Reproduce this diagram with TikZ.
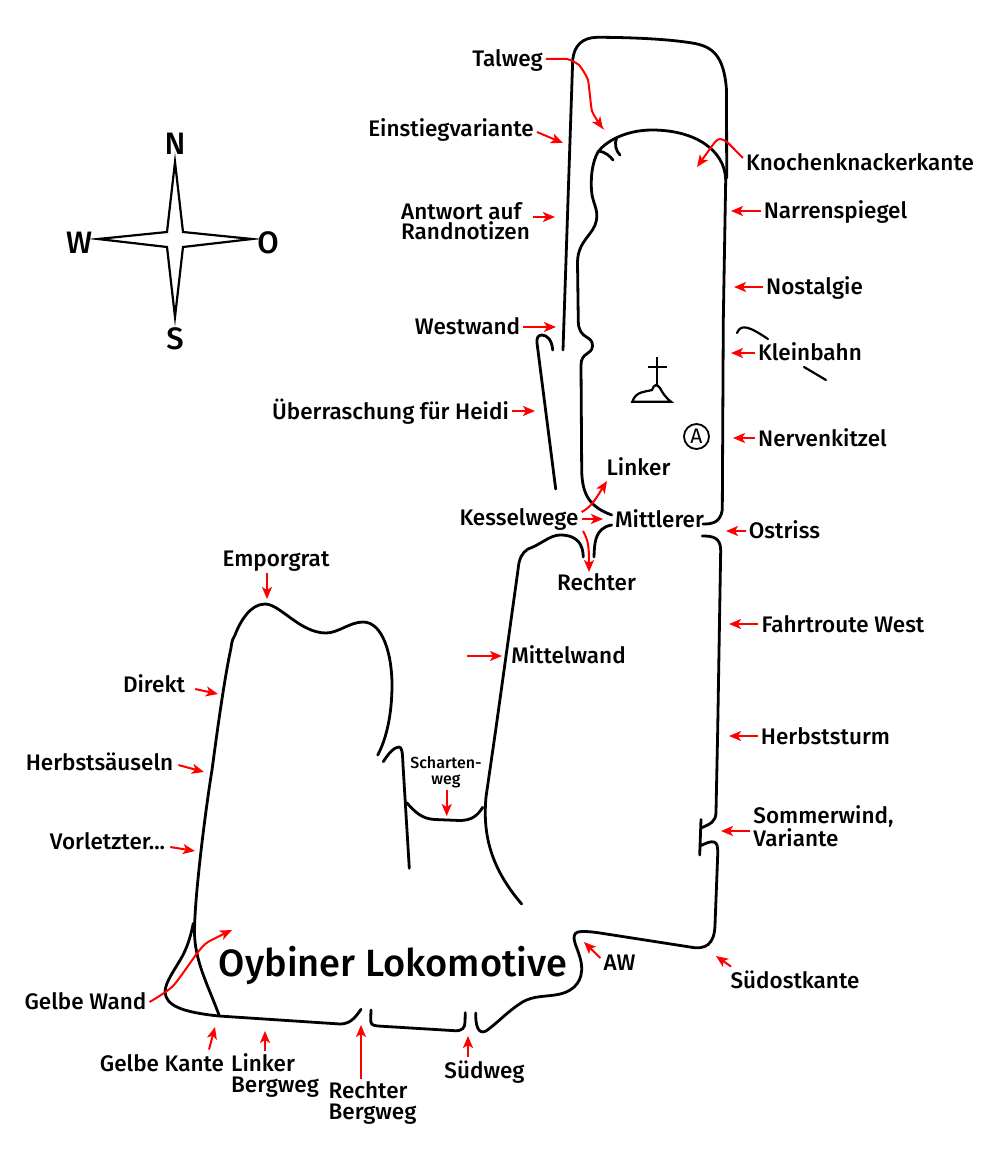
\documentclass[tikz,border=0pt]{standalone}
\usepackage{fontspec}
\setmainfont{Fira Sans Medium}
\newfontfamily\markerfont{Fira Sans}
\usepackage{tikz}
\usetikzlibrary{arrows.meta,calc}
\definecolor{wallblack}{HTML}{000000}
\definecolor{routered}{HTML}{ff0000}
\tikzset{
  wall/.style={draw=wallblack, line width=2.8pt, line cap=round, line join=round},
  thinwall/.style={draw=wallblack, line width=1.8pt, line join=miter},
  route/.style={
    -{Stealth[length=12pt,width=10pt,inset=3pt]},
    line width=2pt, draw=routered
  },
  flag/.style={
    font=\fontsize{22.5}{21}\selectfont, inner sep=3pt,
    text height=18.5pt, text depth=4pt, align=center
  },
  flagtwo/.style={
    font=\fontsize{22.5}{20.5}\selectfont, inner sep=3pt, align=left
  },
  pole/.style={font=\fontsize{31}{31}\selectfont, inner sep=0pt},
}
\begin{document}
\begin{tikzpicture}[x=1pt,y=-1pt]
  \useasboundingbox (0,0) rectangle (1000,1160);

  \draw[thinwall, line width=2.2pt] (175,162) -- (183,232) -- (252,239) -- (183,247) -- (175,317) -- (167,247) -- (98,239) -- (167,232) -- cycle;
  \node[pole] (north) at (175,144) {N};
  \node[pole] (south) at (175,339) {S};
  \node[pole] (west) at (79,243) {W};
  \node[pole] (east) at (268,243) {O};

  \draw[wall] (563,350) -- (572.7,60) .. controls (574,46) and (582,37.5) .. (597,37.3) .. controls (630,37.3) and (670,39) .. (695,43.5) .. controls (712,47) and (724,55) .. (726.5,90) -- (726.7,178);
  \draw[wall] (703,524) .. controls (712,524) and (720,523) .. (722.3,510) -- (723.3,320) -- (725.7,180) .. controls (725,150) and (695,130) .. (652,130) .. controls (625,130) and (605,142) .. (598,152) .. controls (592,162) and (590,180) .. (592,195) .. controls (594,205) and (598,210) .. (596.5,220) .. controls (594,235) and (578,240) .. (577.5,262) -- (578.3,322) .. controls (579,340) and (593,335) .. (592.5,346) .. controls (592,355) and (581,352) .. (581,365) -- (581.7,470) .. controls (582,495) and (590,507) .. (611.7,515);
  \draw[wall] (599,151) .. controls (605,152) and (610,156) .. (613,160);
  \draw[wall] (616.7,137.5) .. controls (614,144) and (616,151) .. (620,155);
  \draw[wall] (552.7,350) .. controls (552,340) and (547,335) .. (542,335) .. controls (538,335) and (536.5,338) .. (537,343) -- (555.7,489);

  \draw[wall] (583.3,557) .. controls (583,545) and (578,535) .. (560,535) .. controls (550,535) and (540,545) .. (528,549) .. controls (522,553) and (519,558) .. (518,570) -- (495.7,730) -- (486,797) .. controls (483,830) and (488,865) .. (521.7,904);
  \draw[wall] (594,557) .. controls (594.5,545) and (594,528) .. (611.7,525);
  \draw[wall] (702.3,536) .. controls (712,536) and (720.5,537) .. (720.7,550) -- (717.7,730) -- (716,812) .. controls (716,822) and (710,824) .. (701.7,827.7);
  \draw[wall] (701,819.5) -- (699.7,855);
  \draw[wall] (700,846) .. controls (706,843) and (711,841) .. (714,842) .. controls (717,843) and (718,846) .. (717.7,855) -- (715,925) .. controls (714.5,945) and (705,950) .. (690,947) -- (600,933) .. controls (590,931.5) and (582,931) .. (578,932) .. controls (574,933) and (573,937) .. (575,943) .. controls (578,952) and (582,960) .. (581.7,970) .. controls (581,985) and (570,993) .. (555,995) .. controls (540,997) and (530,996) .. (518,1005) .. controls (505,1014) and (495,1025) .. (486,1031) .. controls (478,1035) and (475.5,1025) .. (475.7,1013);
  \draw[wall] (371,1010) -- (370.7,1020) .. controls (370.7,1024) and (372,1025.5) .. (378,1026) -- (455,1030.7) .. controls (462,1031) and (465,1028) .. (465,1022) -- (465.3,1012.7);

  \draw[wall] (406.7,802.7) .. controls (415,812) and (422,819) .. (435,819.5) -- (460,820.5) .. controls (472,820.5) and (478,815) .. (482.7,807.3);
  \draw[wall] (383.3,761.7) .. controls (388,754) and (394,747) .. (399,747) .. controls (402,747) and (402.5,752) .. (403,765) -- (409.3,868.3);
  \draw[wall] (361,1009.3) .. controls (355,1018) and (350,1024) .. (340,1024) -- (219,1016) .. controls (180,1012) and (166,1005) .. (165,992) .. controls (165,982) and (176,968) .. (183,955) .. controls (188,945) and (191,935) .. (193.3,923.3);
  \draw[wall] (219,1015) .. controls (208,985) and (194,960) .. (194.5,930) .. controls (195,890) and (207,800) .. (212,770) .. controls (216,740) and (224,680) .. (231,648) .. controls (232,640) and (233,638) .. (235,635) .. controls (240,622) and (250,604) .. (265,604) .. controls (280,604) and (300,633) .. (326,633) .. controls (338,633) and (350,622) .. (363,622) .. controls (383,622) and (392,655) .. (392,685) .. controls (392,715) and (386,740) .. (377.7,755);

  \draw[wall, line width=2.2pt] (737,333) .. controls (741,323) and (750,327) .. (768,339);
  \draw[wall, line width=2.2pt] (804,367) -- (826,380);
  \draw[thinwall, line width=2.2pt] (657,357) -- (657,385);
  \draw[thinwall, line width=2.2pt] (647.7,367) -- (666.7,367);
  \draw[thinwall, line width=2.2pt] (632.3,401.7) -- (671,401.7) .. controls (665,397) and (662,392) .. (660,388) .. controls (657,384) and (654,384) .. (652,390) .. controls (645,392) and (636,391) .. cycle;
  \node[circle, thinwall, minimum size=25pt, inner sep=0pt, font=\markerfont\fontsize{21}{21}\selectfont] (marker) at (696.5,436.5) {A};

  \node[flag] (talweg) at (507.5,59) {Talweg};
  \node[flag] (einstieg) at (451,129) {Einstiegvariante};
  \node[flagtwo] (antwort) at (465.5,221) {Antwort auf\\Randnotizen};
  \node[flag] (westwand) at (467.5,327) {Westwand};
  \node[flag] (heidi) at (390.5,412) {Überraschung für Heidi};
  \node[flag] (kessel) at (519,518) {Kesselwege};
  \node[flag] (linker) at (638.5,468) {Linker};
  \node[flag] (mittlerer) at (659.5,520) {Mittlerer};
  \node[flag] (rechter) at (596.5,583) {Rechter};
  \node[flag] (knochen) at (860,163) {Knochenknackerkante};
  \node[flag] (narren) at (835.5,211) {Narrenspiegel};
  \node[flag] (nostalgie) at (814.5,287) {Nostalgie};
  \node[flag] (kleinbahn) at (810,353) {Kleinbahn};
  \node[flag] (nerven) at (822.5,439) {Nervenkitzel};
  \node[flag] (ostriss) at (784.5,531) {Ostriss};
  \node[flag] (fahrtroute) at (843,625) {Fahrtroute West};
  \node[flag] (herbststurm) at (825.5,737) {Herbststurm};
  \node[flagtwo] (sommerwind) at (823.5,826) {Sommerwind,\\Variante};
  \node[flag] (suedost) at (795,981) {Südostkante};
  \node[flag] (aw) at (619.5,963) {AW};
  \node[flag] (suedweg) at (484.5,1071) {Südweg};
  \node[flagtwo] (rechterberg) at (372.5,1103) {Rechter\\Bergweg};
  \node[flagtwo] (linkerberg) at (275,1075.5) {Linker\\Bergweg};
  \node[flag] (gelbekante) at (162,1064) {Gelbe Kante};
  \node[flag] (gelbewand) at (85.5,1002) {Gelbe Wand};
  \node[flag] (vorletzter) at (107.5,842) {Vorletzter...};
  \node[flag] (saeuseln) at (99.5,763) {Herbstsäuseln};
  \node[flag] (direkt) at (154,685) {Direkt};
  \node[flag] (emporgrat) at (276,559) {Emporgrat};
  \node[flag] (mittelwand) at (568.5,656) {Mittelwand};
  \node[font=\fontsize{16}{16}\selectfont, inner sep=2pt, align=center] (scharte) at (446,772) {Scharten-\\weg};
  \node[font=\fontsize{38}{38}\selectfont, inner sep=0pt] (lokomotive) at (393,965) {Oybiner Lokomotive};

  \coordinate (talwegtip) at (603,129);
  \coordinate (einstiegtip) at (563,143);
  \coordinate (antworttip) at (555,217);
  \coordinate (westwandtip) at (556,327);
  \coordinate (heiditip) at (535,411);
  \coordinate (linkertip) at (607,481);
  \coordinate (mittlerertip) at (603,519);
  \coordinate (rechtertip) at (589,572);
  \coordinate (knochentip) at (697,167);
  \coordinate (narrentip) at (731,211);
  \coordinate (nostalgietip) at (734,287);
  \coordinate (kleinbahntip) at (731,353);
  \coordinate (nerventip) at (733,438);
  \coordinate (ostrisstip) at (726,531);
  \coordinate (fahrtroutetip) at (729,624);
  \coordinate (herbststurmtip) at (729,736);
  \coordinate (sommerwindtip) at (721,831);
  \coordinate (suedosttip) at (716,956);
  \coordinate (awtip) at (584,942);
  \coordinate (suedwegtip) at (468,1036);
  \coordinate (rechterbergtip) at (361,1025);
  \coordinate (linkerbergtip) at (265,1031);
  \coordinate (gelbekantetip) at (215,1027);
  \coordinate (gelbewandtip) at (232,930);
  \coordinate (vorletztertip) at (195,851);
  \coordinate (saeuselntip) at (204,772);
  \coordinate (direkttip) at (218,694);
  \coordinate (emporgrattip) at (267,599);
  \coordinate (mittelwandstart) at (467,656);
  \coordinate (mittelwandtip) at (502,656);
  \coordinate (schartetip) at (446.7,816);

  \draw[route] plot[smooth, tension=0.3] coordinates {(talweg.east) (567,59) (579,65) (588,80) (592,111) (talwegtip)};
  \draw[route] ([yshift=-3pt]einstieg.east) -- (einstiegtip);
  \draw[route] (antwort.east |- antworttip) -- (antworttip);
  \draw[route] (westwand) -- (westwandtip);
  \draw[route] (heidi.east |- heiditip) -- (heiditip);
  \draw[route] ([yshift=6pt]kessel.east) .. controls (592,507) and (598,495) .. (linkertip);
  \draw[route] (kessel.east |- mittlerertip) -- (mittlerertip);
  \draw[route] (583,531) .. controls (588,540) and (589,545) .. (rechtertip);
  \draw[route] plot[smooth, tension=0.3] coordinates {([yshift=5pt]knochen.west) (727,142) (720,139) (715,142) (knochentip)};
  \draw[route] (narren) -- (narrentip);
  \draw[route] (nostalgie) -- (nostalgietip);
  \draw[route] (kleinbahn) -- (kleinbahntip);
  \draw[route] (nerven.west |- nerventip) -- (nerventip);
  \draw[route] (ostriss) -- (ostrisstip);
  \draw[route] (fahrtroute.west |- fahrtroutetip) -- (fahrtroutetip);
  \draw[route] (herbststurm.west |- herbststurmtip) -- (herbststurmtip);
  \draw[route] (sommerwind.west |- sommerwindtip) -- (sommerwindtip);
  \draw[route] ([xshift=-64pt]suedost.north) -- (suedosttip);
  \draw[route] ([yshift=5pt]aw.west) -- (awtip);
  \draw[route] (suedweg.north -| suedwegtip) -- (suedwegtip);
  \draw[route] (rechterberg.north -| rechterbergtip) -- (rechterbergtip);
  \draw[route] (linkerberg.north -| linkerbergtip) -- (linkerbergtip);
  \draw[route] ([xshift=47pt]gelbekante.north) -- (gelbekantetip);
  \draw[route] plot[smooth, tension=0.4] coordinates {(gelbewand.east) (173,986) (198,952) (208,942) (gelbewandtip)};
  \draw[route] ([xshift=2pt,yshift=-5pt]vorletzter.east) -- (vorletztertip);
  \draw[route] ([xshift=2pt,yshift=-2pt]saeuseln.east) -- (saeuselntip);
  \draw[route] ([xshift=7pt,yshift=-4pt]direkt.east) -- (direkttip);
  \draw[route] (emporgrat.south -| emporgrattip) -- (emporgrattip);
  \draw[route] (mittelwandstart) -- (mittelwandtip);
  \draw[route] (scharte.south -| schartetip) -- (schartetip);
\end{tikzpicture}
\end{document}
